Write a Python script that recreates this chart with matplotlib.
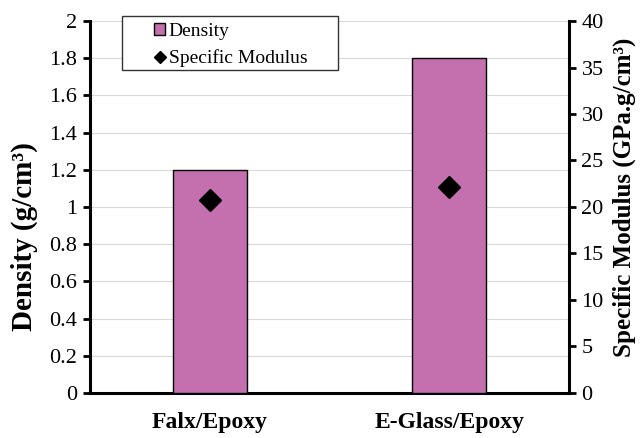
import matplotlib.pyplot as plt
from matplotlib.patches import Rectangle
import numpy as np

# Composite comparison: density (bars) and specific modulus (markers)
materials = ["Falx/Epoxy", "E-Glass/Epoxy"]
density = [1.2, 1.8]
specific_modulus = [20.75, 22.2]

plt.rcParams["font.family"] = ["Liberation Serif", "DejaVu Serif"]

fig, ax = plt.subplots(figsize=(6.4, 4.38), dpi=100)
fig.subplots_adjust(left=0.1406, right=0.889, top=0.952, bottom=0.103)

x = np.arange(len(materials))
bars = ax.bar(x, density, width=0.31, color="#C46FAE", edgecolor="black",
              linewidth=1.0, label="Density", zorder=3)

ax.set_xlim(-0.5, 1.5)
ax.set_ylim(0, 2)
ax.set_yticks(np.arange(0, 2.01, 0.2))
ax.set_yticklabels(["0", "0.2", "0.4", "0.6", "0.8", "1", "1.2", "1.4", "1.6", "1.8", "2"])
ax.set_xticks(x)
ax.set_xticklabels(materials, fontweight="bold", fontsize=17)
ax.tick_params(axis="x", length=0, pad=14)
ax.tick_params(axis="y", labelsize=16, width=2, length=5, direction="out", pad=4)
ax.grid(axis="y", color="#d9d9d9", linewidth=0.8, zorder=0)
ax.set_ylabel("Density (g/cm³)", fontsize=21, fontweight="bold")
ax.yaxis.set_label_coords(-0.108, 0.42)

for side in ["top", "right"]:
    ax.spines[side].set_visible(False)
ax.spines["left"].set_linewidth(2.2)
ax.spines["bottom"].set_linewidth(2.2)

ax2 = ax.twinx()
ax2.set_ylim(0, 40)
ax2.set_yticks(np.arange(0, 41, 5))
pts = ax2.plot(x, specific_modulus, linestyle="none", marker="D", markersize=11,
               color="black", label="Specific Modulus", zorder=4)
ax2.tick_params(axis="y", labelsize=16, width=2, length=5, direction="out", pad=4)
ax2.set_ylabel("Specific Modulus (GPa.g/cm³)", fontsize=18, fontweight="bold")
ax2.yaxis.set_label_coords(1.092, 0.527)
for side in ["top", "left", "bottom"]:
    ax2.spines[side].set_visible(False)
ax2.spines["right"].set_linewidth(2.2)

# legend box drawn separately so the entries can sit indented inside it
ax2.add_patch(Rectangle((0.067, 0.868), 0.451, 0.145, transform=ax2.transAxes,
                        facecolor="white", edgecolor="#333333", linewidth=1.0,
                        clip_on=False, zorder=5))
leg = ax2.legend([bars, pts[0]], ["Density", "Specific Modulus"],
                 loc="upper left", bbox_to_anchor=(0.134, 0.995), fontsize=14,
                 frameon=False, handlelength=0.55, handleheight=0.55,
                 handletextpad=0.2, borderpad=0, labelspacing=0.5,
                 borderaxespad=0, markerscale=0.6)
leg.set_zorder(6)

fig.savefig("out.png", dpi=100)
